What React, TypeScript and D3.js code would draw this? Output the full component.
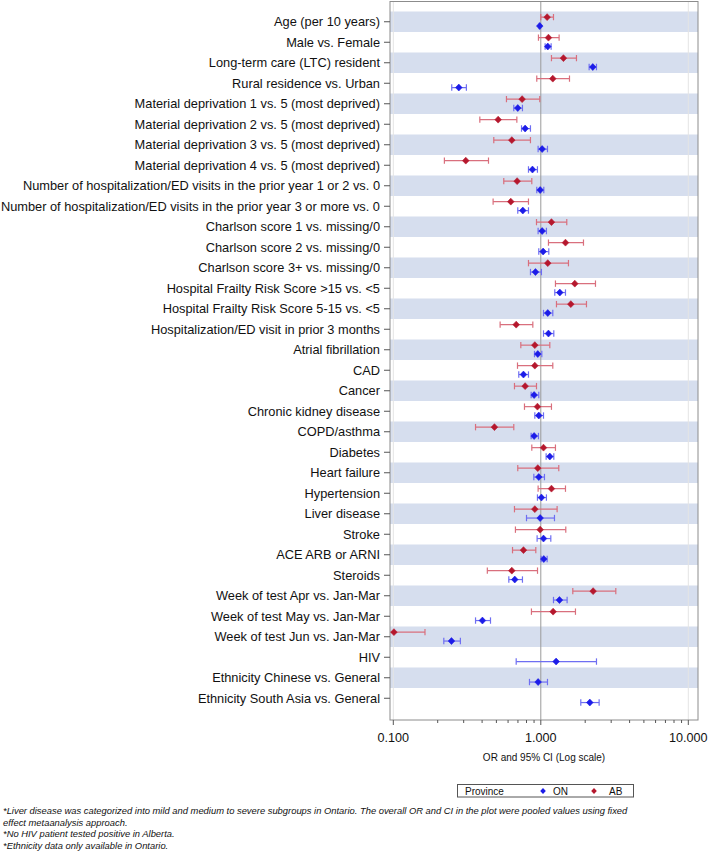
import * as d3 from "d3";

// rows, top to bottom
const categories = [
  "Age (per 10 years)",
  "Male vs. Female",
  "Long-term care (LTC) resident",
  "Rural residence vs. Urban",
  "Material deprivation 1 vs. 5 (most deprived)",
  "Material deprivation 2 vs. 5 (most deprived)",
  "Material deprivation 3 vs. 5 (most deprived)",
  "Material deprivation 4 vs. 5 (most deprived)",
  "Number of hospitalization/ED visits in the prior year 1 or 2 vs. 0",
  "Number of hospitalization/ED visits in the prior year 3 or more vs. 0",
  "Charlson score 1 vs. missing/0",
  "Charlson score 2 vs. missing/0",
  "Charlson score 3+ vs. missing/0",
  "Hospital Frailty Risk Score >15 vs. <5",
  "Hospital Frailty Risk Score 5-15 vs. <5",
  "Hospitalization/ED visit in prior 3 months",
  "Atrial fibrillation",
  "CAD",
  "Cancer",
  "Chronic kidney disease",
  "COPD/asthma",
  "Diabetes",
  "Heart failure",
  "Hypertension",
  "Liver disease",
  "Stroke",
  "ACE ARB or ARNI",
  "Steroids",
  "Week of test Apr vs. Jan-Mar",
  "Week of test May vs. Jan-Mar",
  "Week of test Jun vs. Jan-Mar",
  "HIV",
  "Ethnicity Chinese vs. General",
  "Ethnicity South Asia vs. General",
];

// Ontario
const onOR = [0.984, 1.115, 2.252, 0.278, 0.698, 0.783, 1.021, 0.878, 0.99, 0.755, 1.021, 1.037, 0.92, 1.345, 1.115, 1.127, 0.954, 0.763, 0.901, 0.969, 0.901, 1.151, 0.969, 1.01, 0.99, 1.043, 1.048, 0.666, 1.338, 0.402, 0.248, 1.27, 0.959, 2.149];
const onLo = [0.975, 1.07, 2.127, 0.249, 0.656, 0.74, 0.959, 0.825, 0.939, 0.698, 0.959, 0.969, 0.851, 1.244, 1.043, 1.043, 0.906, 0.709, 0.86, 0.911, 0.86, 1.087, 0.897, 0.949, 0.8, 0.944, 1.005, 0.607, 1.219, 0.361, 0.22, 0.681, 0.838, 1.867];
const onHi = [0.993, 1.175, 2.385, 0.313, 0.751, 0.851, 1.11, 0.949, 1.048, 0.825, 1.092, 1.133, 1.01, 1.47, 1.206, 1.225, 1.016, 0.825, 0.969, 1.043, 0.964, 1.225, 1.059, 1.092, 1.238, 1.169, 1.104, 0.751, 1.508, 0.456, 0.285, 2.385, 1.11, 2.486];

// Alberta (no HIV / ethnicity)
const abOR = [1.104, 1.127, 1.424, 1.206, 0.747, 0.514, 0.636, 0.31, 0.691, 0.626, 1.181, 1.47, 1.115, 1.7, 1.598, 0.681, 0.911, 0.911, 0.783, 0.949, 0.485, 1.043, 0.954, 1.181, 0.911, 0.99, 0.763, 0.636, 2.263, 1.212, 0.101, null, null, null];
const abLo = [1.0, 0.964, 1.181, 0.939, 0.585, 0.386, 0.48, 0.222, 0.561, 0.475, 0.935, 1.127, 0.825, 1.257, 1.277, 0.53, 0.732, 0.695, 0.663, 0.775, 0.361, 0.869, 0.698, 0.959, 0.663, 0.673, 0.643, 0.434, 1.648, 0.864, 0.09, null, null, null];
const abHi = [1.219, 1.331, 1.745, 1.565, 0.984, 0.688, 0.851, 0.442, 0.869, 0.825, 1.5, 1.947, 1.54, 2.348, 2.04, 0.883, 1.151, 1.206, 0.935, 1.181, 0.656, 1.257, 1.324, 1.47, 1.29, 1.477, 0.925, 0.95, 3.225, 1.718, 0.164, null, null, null];

const majorTicks = [0.1, 1, 10];
const majorLabels = ["0.100", "1.000", "10.000"];

const footnotes = [
  "*Liver disease was categorized into mild and medium to severe subgroups in Ontario. The overall OR and CI in the plot were pooled values using fixed",
  "effect metaanalysis approach.",
  "*No HIV patient tested positive in Alberta.",
  "*Ethnicity data only available in Ontario.",
];

const W = 709, H = 854;
const FL = 390, FR = 698, FT = 1.5, FB = 720;
const FONT = "'Liberation Sans', Arial, sans-serif";
const RED = "#b5172d", RED_BAR = "#d96f7d";
const BLUE = "#1c1ce8", BLUE_BAR = "#6e6ef2";

const diamond = (cx: number, cy: number, r = 3.3) =>
  `M${cx},${cy - r * 1.05}L${cx + r},${cy}L${cx},${cy + r * 1.05}L${cx - r},${cy}Z`;

function CI({ x, cy, lo, hi, est, bar, fill }: any) {
  const x0 = x(lo), x1 = x(hi), cap = 3.2;
  return (
    <g>
      <line x1={x0} x2={x1} y1={cy} y2={cy} stroke={bar} strokeWidth={1.2} />
      <line x1={x0} x2={x0} y1={cy - cap} y2={cy + cap} stroke={bar} strokeWidth={1.2} />
      <line x1={x1} x2={x1} y1={cy - cap} y2={cy + cap} stroke={bar} strokeWidth={1.2} />
      <path d={diamond(x(est), cy)} fill={fill} stroke={fill} strokeWidth={0.6} strokeLinejoin="round" />
    </g>
  );
}

export default function App() {
  const x = d3.scaleLog().domain([0.1, 10]).range([393.3, 688.3]);
  const y = d3.scaleBand<string>().domain(categories).range([11.5, 708.5]);
  const bw = y.bandwidth();
  const mid = (c: string) => (y(c) as number) + bw / 2;
  const allTicks = x.ticks();

  return (
    <svg width={W} height={H} style={{ position: "absolute", left: 0, top: 0, fontFamily: FONT }}>
      <defs>
        <clipPath id="frame">
          <rect x={FL} y={FT} width={FR - FL} height={FB - FT} />
        </clipPath>
      </defs>
      <rect width={W} height={H} fill="#fff" />

      {/* alternating bands */}
      {categories.map((c, i) =>
        i % 2 === 0 ? (
          <rect key={c} x={FL} y={y(c)} width={FR - FL} height={bw} fill="#d6deee" />
        ) : null
      )}

      {/* grid + reference */}
      {[0.1, 10].map((v) => (
        <line key={v} x1={x(v)} x2={x(v)} y1={FT} y2={FB} stroke="#e4e4e4" strokeWidth={1} />
      ))}
      <line x1={x(1)} x2={x(1)} y1={FT} y2={FB} stroke="#9a9a9a" strokeWidth={1} />

      <g clipPath="url(#frame)">
        {categories.map((c, i) => (
          <g key={c}>
            {abOR[i] != null && (
              <CI x={x} cy={mid(c) - 4.6} lo={abLo[i]} hi={abHi[i]} est={abOR[i]} bar={RED_BAR} fill={RED} />
            )}
            <CI x={x} cy={mid(c) + 4.3} lo={onLo[i]} hi={onHi[i]} est={onOR[i]} bar={BLUE_BAR} fill={BLUE} />
          </g>
        ))}
      </g>

      <rect x={FL} y={FT} width={FR - FL} height={FB - FT} fill="none" stroke="#8c8c8c" strokeWidth={1} />

      {/* y axis */}
      {categories.map((c) => (
        <g key={c}>
          <line x1={FL - 6} x2={FL} y1={mid(c)} y2={mid(c)} stroke="#555" strokeWidth={1} />
          <text x={380} y={mid(c)} dy="0.36em" textAnchor="end" fontSize={12.8} fill="#111">
            {c}
          </text>
        </g>
      ))}

      {/* x axis */}
      {allTicks.map((t, i) => {
        const major = majorTicks.some((m) => Math.abs(m - t) < 1e-9);
        return (
          <line key={i} x1={x(t)} x2={x(t)} y1={FB} y2={FB + (major ? 5 : 3)} stroke="#555" strokeWidth={1} />
        );
      })}
      {majorTicks.map((t, i) => (
        <text key={t} x={x(t)} y={737} dy="0.36em" textAnchor="middle" fontSize={12.6} fill="#111">
          {majorLabels[i]}
        </text>
      ))}
      <text x={544} y={757} dy="0.36em" textAnchor="middle" fontSize={10} fill="#111">
        OR and 95% CI (Log scale)
      </text>

      {/* legend */}
      <rect x={457.5} y={784.5} width={176} height={12.5} fill="#fff" stroke="#555" strokeWidth={1} />
      <text x={465} y={791} dy="0.36em" fontSize={10} fill="#111">Province</text>
      <path d={diamond(543, 791, 2.8)} fill={BLUE} />
      <text x={553} y={791} dy="0.36em" fontSize={10} fill="#111">ON</text>
      <path d={diamond(594, 791, 2.8)} fill={RED} />
      <text x={609} y={791} dy="0.36em" fontSize={10} fill="#111">AB</text>

      {/* footnotes */}
      {footnotes.map((f, i) => (
        <text key={i} x={3} y={811 + i * 11.5} dy="0.36em" fontSize={9.4} fontStyle="italic" fill="#111">
          {f}
        </text>
      ))}
    </svg>
  );
}
